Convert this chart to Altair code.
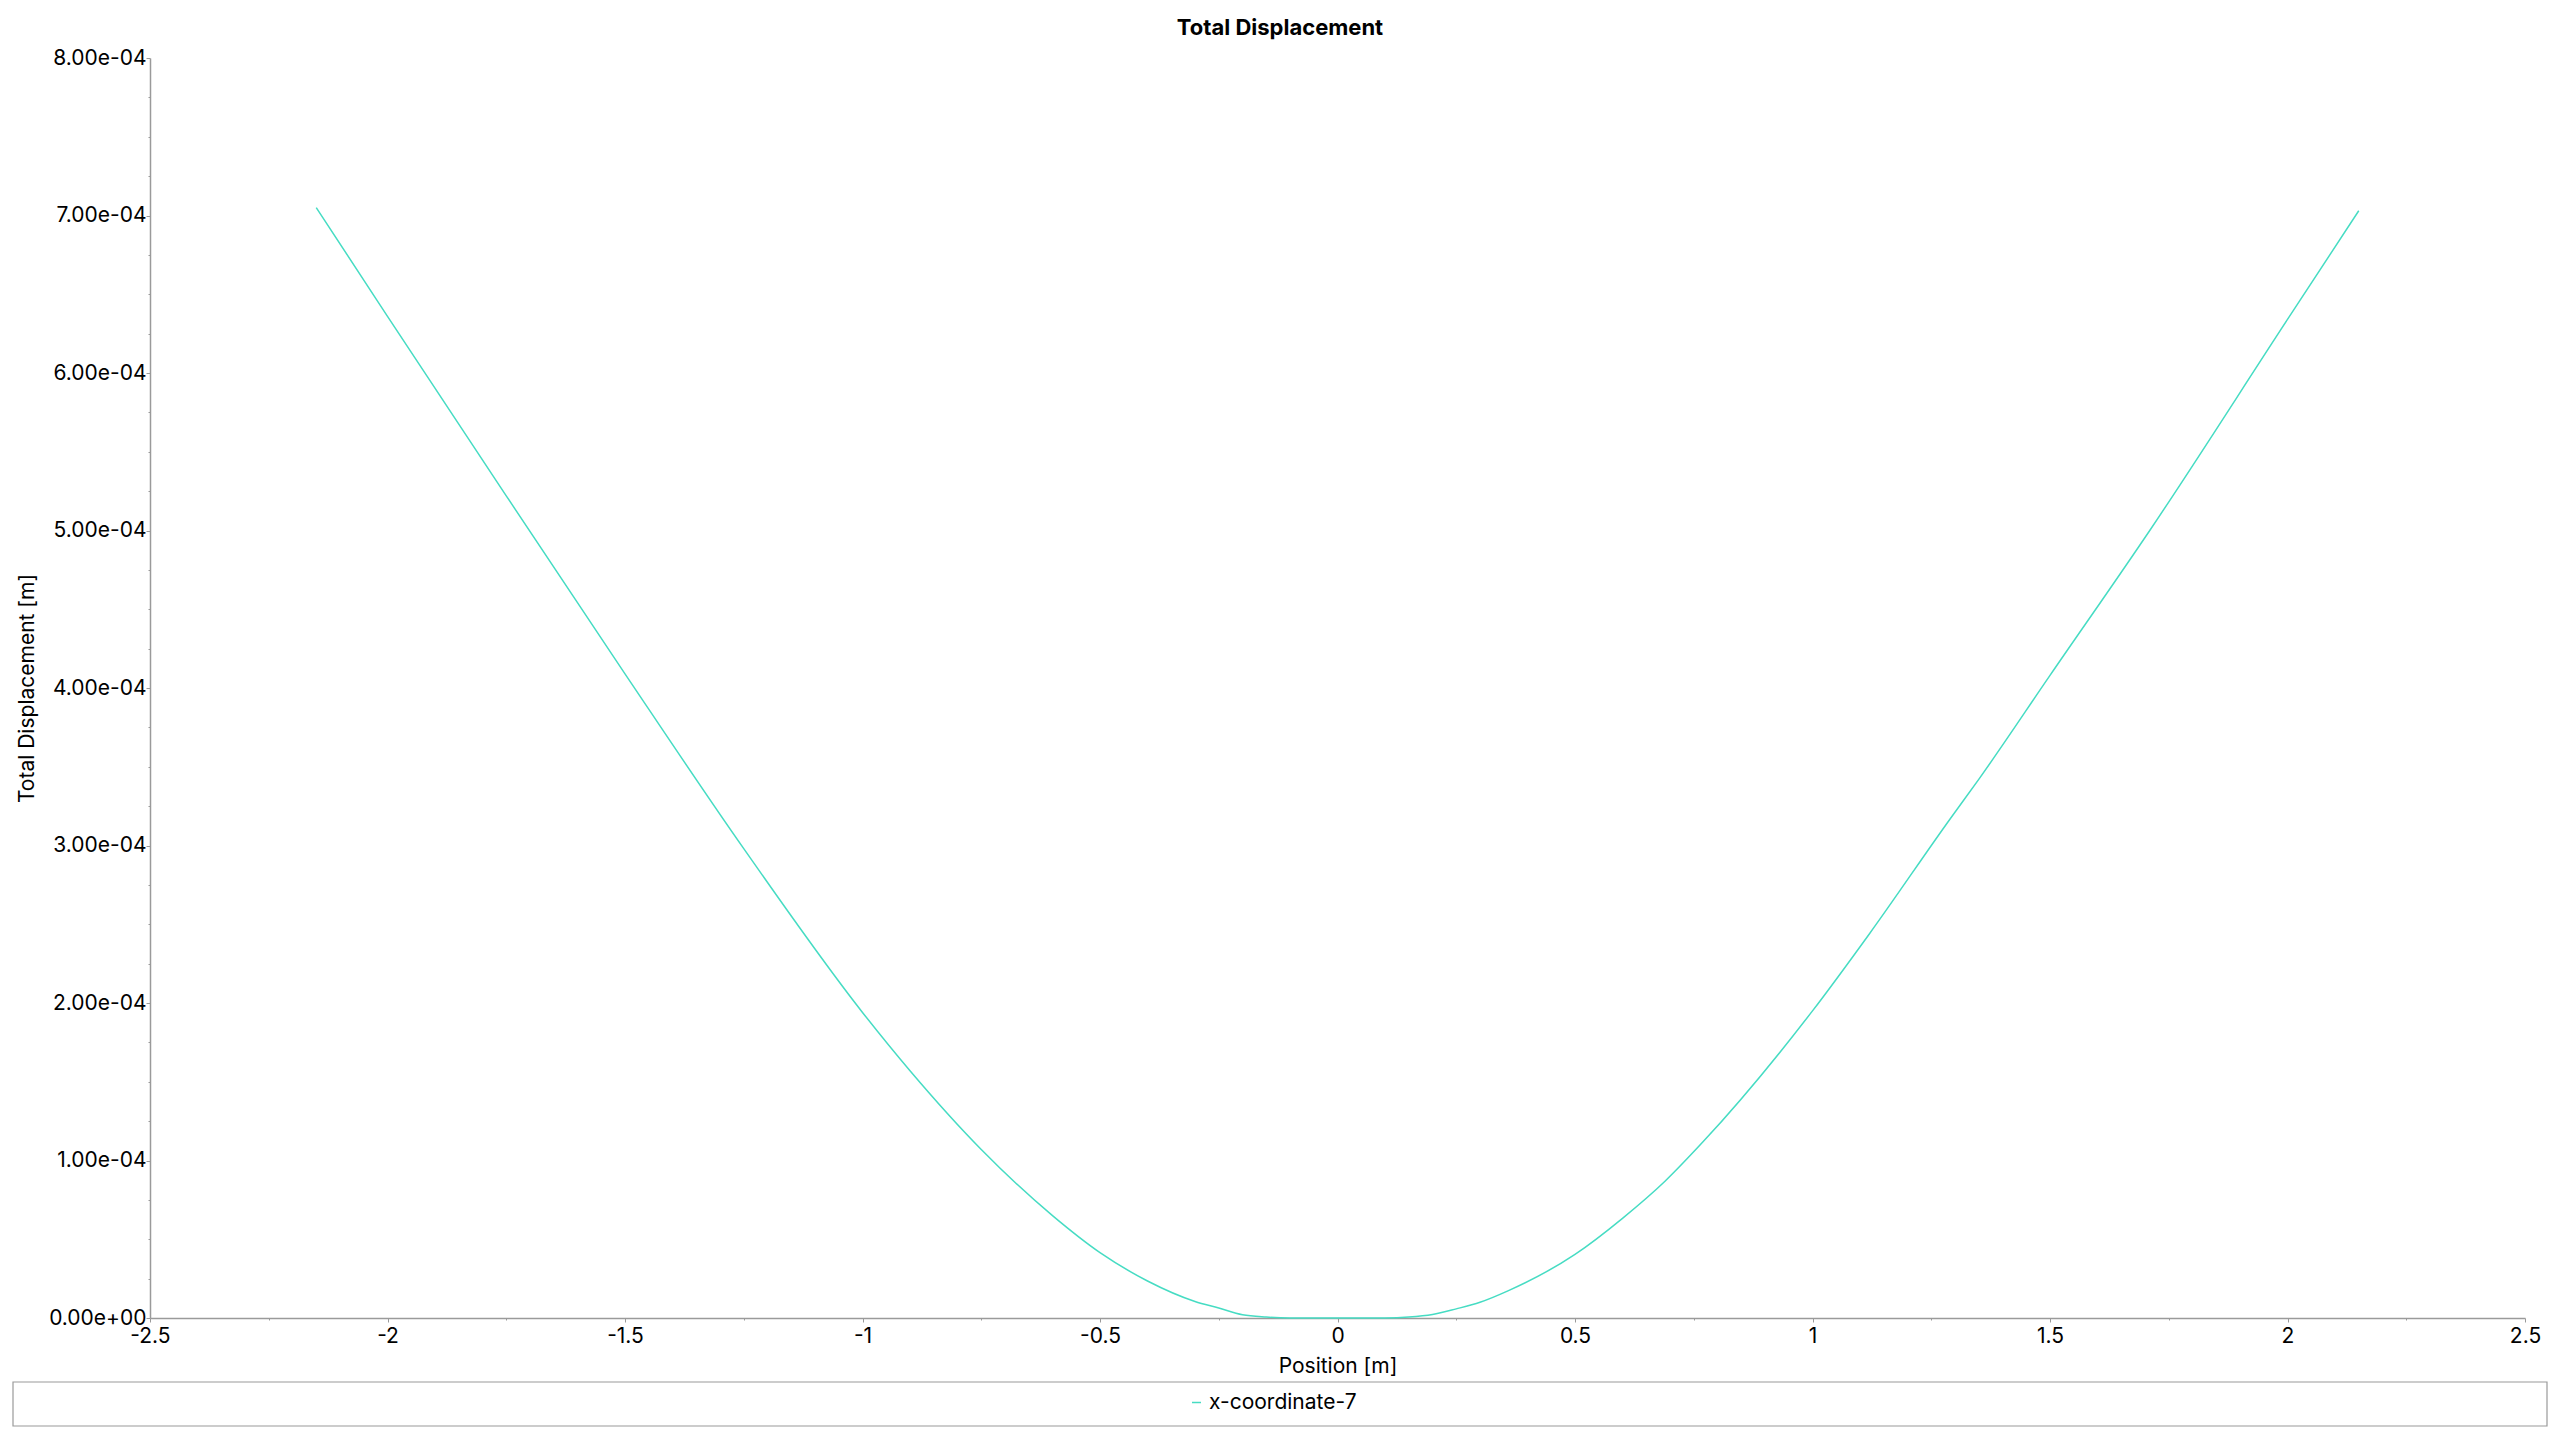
import altair as alt
import pandas as pd

# ---- data ----
position_m = [-2.15, -2.0, -1.75, -1.5, -1.25, -1.0, -0.9, -0.75, -0.6, -0.5,
              -0.4, -0.3, -0.25, -0.2, -0.15, -0.1, 0.0, 0.1, 0.15, 0.2,
              0.25, 0.3, 0.36, 0.5, 0.6, 0.69, 0.77, 1.0, 1.12, 1.29,
              1.35, 1.5, 1.71, 2.0, 2.15]
total_displacement_m = [7.05e-4, 6.36e-4, 5.22e-4, 4.09e-4, 2.98e-4, 1.94e-4, 1.57e-4, 1.07e-4, 6.5e-5, 4.15e-5,
                        2.35e-5, 1.05e-5, 6.3e-6, 2.0e-6, 0.6e-6, 0.05e-6, 0.0, 0.05e-6, 0.6e-6, 2.2e-6,
                        5.8e-6, 1.0e-5, 1.74e-5, 4.04e-5, 6.33e-5, 8.7e-5, 1.12e-4, 1.95e-4, 2.44e-4, 3.17e-4,
                        3.42e-4, 4.08e-4, 5.0e-4, 6.34e-4, 7.03e-4]
series_name = "x-coordinate-7"
chart_title = "Total Displacement"

x_major_ticks = [-2.5, -2.0, -1.5, -1.0, -0.5, 0.0, 0.5, 1.0, 1.5, 2.0, 2.5]
x_minor_ticks = [-2.25, -1.75, -1.25, -0.75, -0.25, 0.25, 0.75, 1.25, 1.75, 2.25]
y_major_ticks = [0.0, 1e-4, 2e-4, 3e-4, 4e-4, 5e-4, 6e-4, 7e-4, 8e-4]
y_minor_ticks = [0.25e-4, 0.5e-4, 0.75e-4, 1.25e-4, 1.5e-4, 1.75e-4, 2.25e-4, 2.5e-4, 2.75e-4,
                 3.25e-4, 3.5e-4, 3.75e-4, 4.25e-4, 4.5e-4, 4.75e-4, 5.25e-4, 5.5e-4, 5.75e-4,
                 6.25e-4, 6.5e-4, 6.75e-4, 7.25e-4, 7.5e-4, 7.75e-4]

df = pd.DataFrame({"position": position_m, "disp": total_displacement_m, "series": series_name})

FONT = "Inter"
GRAY = "#9a9a9a"
LINE_COLOR = "#46dcc3"
FS = 21

x_scale = alt.Scale(domain=[-2.5, 2.5], nice=False, zero=False)
y_scale = alt.Scale(domain=[0, 8e-4], nice=False)

line = alt.Chart(df).mark_line(strokeWidth=1.5, interpolate="monotone").encode(
    x=alt.X("position:Q", scale=x_scale,
            axis=alt.Axis(title="Position [m]", orient="bottom", values=x_major_ticks,
                          labelExpr="toString(datum.value)", tickSize=4, labelPadding=3,
                          labelFlush=False, labelOverlap=False, titlePadding=9)),
    y=alt.Y("disp:Q", scale=y_scale,
            axis=alt.Axis(title="Total Displacement [m]", orient="left", values=y_major_ticks,
                          labelExpr="datum.value == 0 ? '0.00e+00' : format(datum.value*1e4, '.2f') + 'e-04'",
                          tickSize=4, labelPadding=0, labelFlush=False, labelOverlap=False,
                          titlePadding=11)),
    color=alt.Color("series:N", scale=alt.Scale(range=[LINE_COLOR]),
                    legend=alt.Legend(orient="none", legendX=1036, legendY=1334, title=None,
                                      symbolType="stroke", symbolSize=81, symbolStrokeWidth=1.5,
                                      labelFont=FONT, labelFontSize=FS, labelColor="#000000",
                                      labelOffset=2, padding=0)),
)

minor = alt.Chart(df).mark_line(opacity=0).encode(
    x=alt.X("position:Q", scale=x_scale,
            axis=alt.Axis(title=None, orient="bottom", values=x_minor_ticks, labels=False,
                          domain=False, tickSize=2)),
    y=alt.Y("disp:Q", scale=y_scale,
            axis=alt.Axis(title=None, orient="left", values=y_minor_ticks, labels=False,
                          domain=False, tickSize=2)),
)

frame = alt.Chart(alt.Data(values=[{"k": 1}])).mark_rect(
    fillOpacity=0, stroke=GRAY, strokeWidth=1.2
).encode(
    x=alt.value(-137), x2=alt.value(2397), y=alt.value(1324), y2=alt.value(1368)
)

title = alt.Chart(alt.Data(values=[{"t": chart_title}])).mark_text(
    font=FONT, fontSize=22, fontWeight="bold", color="#000000",
    align="center", baseline="alphabetic"
).encode(
    text="t:N", x=alt.value(1130), y=alt.value(-23)
)

chart = alt.layer(line, minor, frame, title).resolve_axis(
    x="independent", y="independent"
).properties(
    width=2375,
    height=1260,
    autosize=alt.AutoSizeParams(type="none"),
    padding={"left": 142, "top": 50, "right": 27, "bottom": 114},
).configure_view(
    strokeWidth=0
).configure_axis(
    grid=False,
    domainColor=GRAY,
    domainWidth=1.5,
    tickColor=GRAY,
    tickWidth=1,
    labelFont=FONT,
    labelFontSize=FS,
    labelColor="#000000",
    titleFont=FONT,
    titleFontSize=FS,
    titleFontWeight="normal",
    titleColor="#000000",
)

chart.save("out.html", embed_options={"renderer": "svg", "actions": False})
